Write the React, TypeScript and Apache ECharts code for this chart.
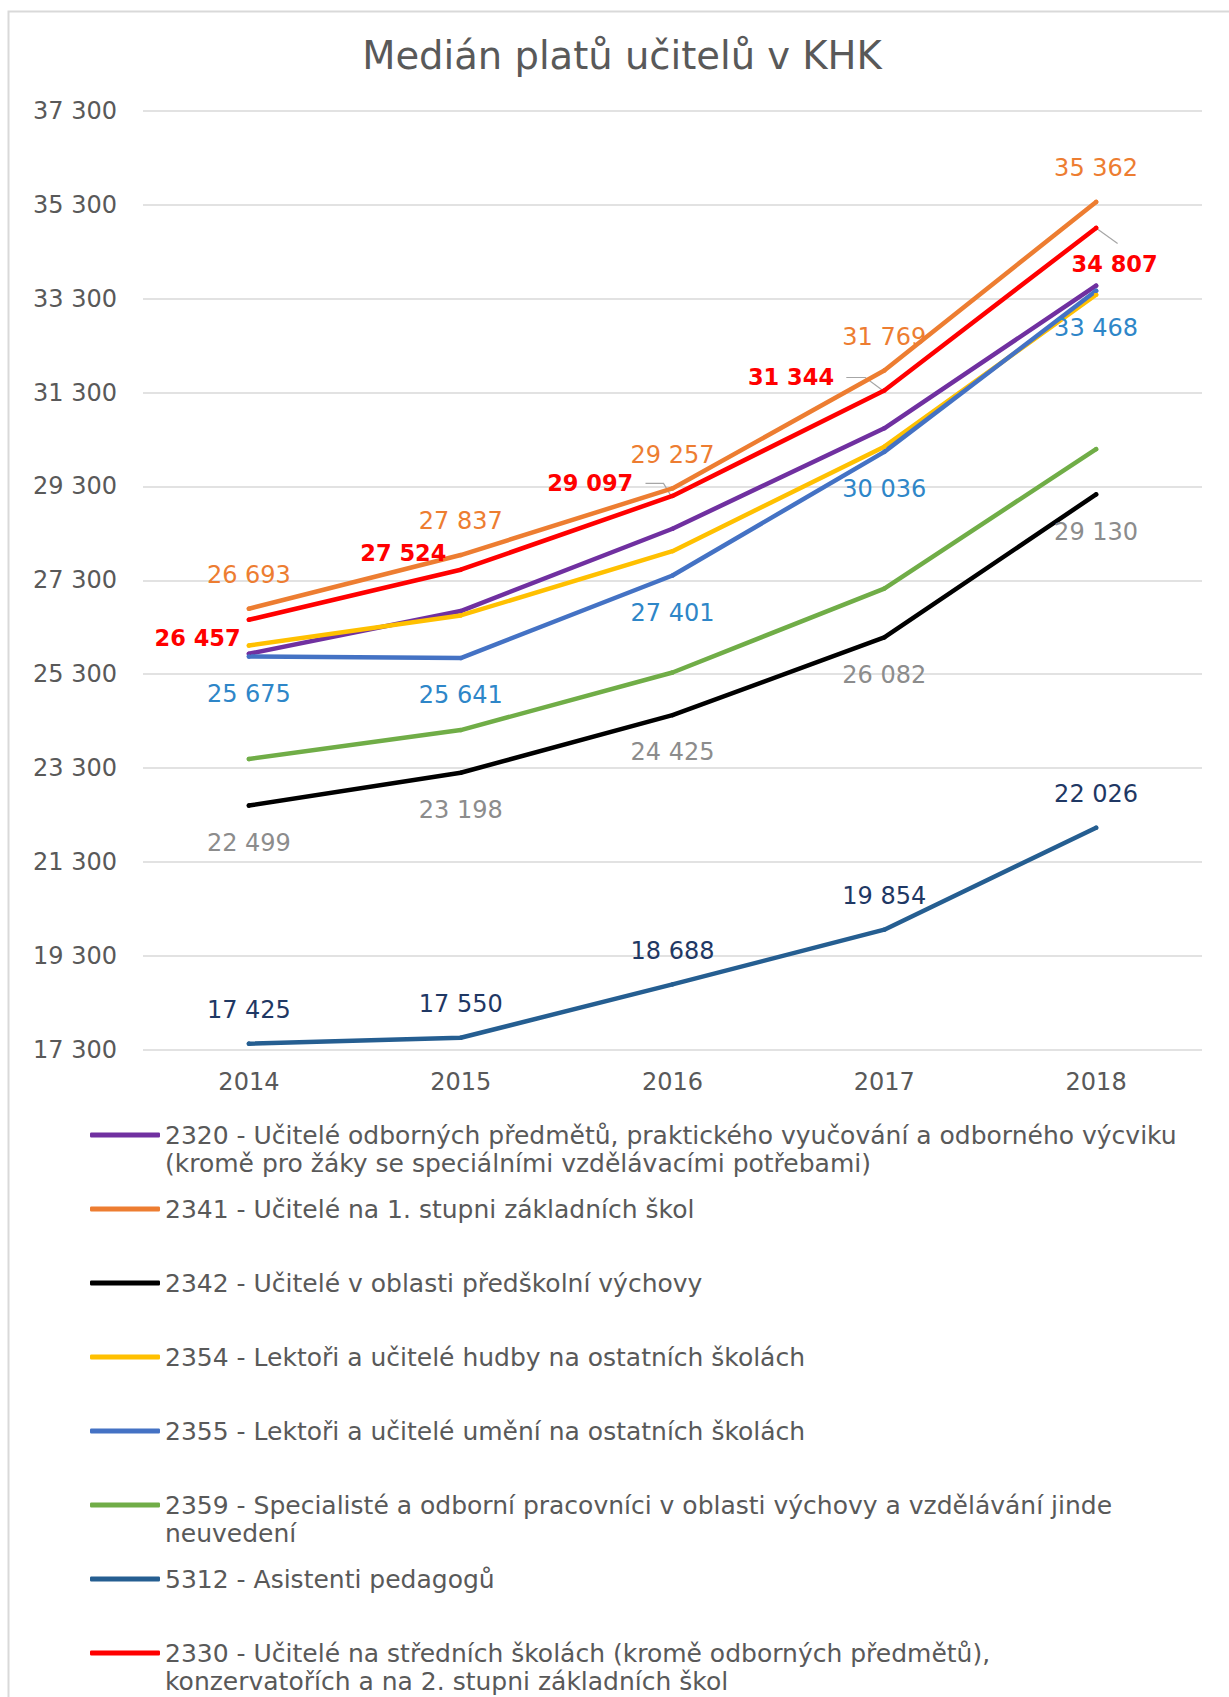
import React, { useEffect, useRef } from 'react';
import * as echarts from 'echarts';

// ---------- data ----------
const chartTitle = 'Medián platů učitelů v KHK';
const years = ['2014', '2015', '2016', '2017', '2018'];
const yMin = 17300;
const yMax = 37300;
const yStep = 2000;

const name2320 = '2320 - Učitelé odborných předmětů, praktického vyučování a odborného výcviku (kromě pro žáky se speciálními vzdělávacími potřebami)';
const name2341 = '2341 - Učitelé na 1. stupni základních škol';
const name2342 = '2342 - Učitelé v oblasti předškolní výchovy';
const name2354 = '2354 - Lektoři a učitelé hudby na ostatních školách';
const name2355 = '2355 - Lektoři a učitelé umění na ostatních školách';
const name2359 = '2359 - Specialisté a odborní pracovníci v oblasti výchovy a vzdělávání jinde neuvedení';
const name5312 = '5312 - Asistenti pedagogů';
const name2330 = '2330 - Učitelé na středních školách (kromě odborných předmětů), konzervatořích a na 2. stupni základních škol';

const values2320 = [25732, 26643, 28398, 30539, 33577];
const values2341 = [26693, 27837, 29257, 31769, 35362];
const values2342 = [22499, 23198, 24425, 26082, 29130];
const values2354 = [25908, 26550, 27920, 30146, 33385];
const values2355 = [25675, 25641, 27401, 30036, 33468];
const values2359 = [23491, 24107, 25334, 27123, 30094];
const values5312 = [17425, 17550, 18688, 19854, 22026];
const values2330 = [26457, 27524, 29097, 31344, 34807];

// legend texts (line breaks as in the picture)
const legendTexts: Record<string, string> = {
  [name2320]: '2320 - Učitelé odborných předmětů, praktického vyučování a odborného výcviku\n(kromě pro žáky se speciálními vzdělávacími potřebami)',
  [name2341]: name2341,
  [name2342]: name2342,
  [name2354]: name2354,
  [name2355]: name2355,
  [name2359]: '2359 - Specialisté a odborní pracovníci v oblasti výchovy a vzdělávání jinde\nneuvedení',
  [name5312]: name5312,
  [name2330]: '2330 - Učitelé na středních školách (kromě odborných předmětů),\nkonzervatořích a na 2. stupni základních škol',
};
const legendOrder = [name2320, name2341, name2342, name2354, name2355, name2359, name5312, name2330];

// ---------- styles ----------
const FONT = 'DejaVu Sans';
const TXT = '#595959';

// label placement for the red series (styling only)
const redLabelPlacement: any[] = [
  { position: 'left', distance: 6, offset: [0, 18.5], leader: null },
  { position: 'left', distance: 12, offset: [0, -16.5], leader: null },
  { position: 'left', distance: 37, offset: [0, -12.5], leader: { kind: 'side', gap: 10, run: 18 } },
  { position: 'left', distance: 48, offset: [0, -13], leader: { kind: 'side', gap: 10, run: 19 } },
  { position: 'bottom', distance: 22, offset: [18.5, 0], leader: { kind: 'diag', dx: 21.5, dy: 15.5 } },
];

const fmt = (v: number) => {
  const t = Math.floor(v / 1000);
  const r = Math.round(v % 1000);
  return t > 0 ? `${t} ${String(r).padStart(3, '0')}` : String(r);
};

function lineSeries(name: string, values: any[], color: string, label?: any) {
  return {
    name,
    type: 'line',
    data: values,
    symbol: 'circle',
    symbolSize: 4.5,
    showSymbol: true,
    lineStyle: { color, width: 4.5, cap: 'round', join: 'round' },
    itemStyle: { color, borderWidth: 0 },
    emphasis: { disabled: true },
    label: label
      ? {
          show: true,
          fontFamily: FONT,
          fontSize: 24,
          formatter: (p: any) => fmt(p.value),
          ...label,
        }
      : { show: false },
  };
}

const frameGraphic = {
  id: 'frame',
  type: 'rect',
  silent: true,
  z: -10,
  shape: { x: 8.5, y: 11.5, width: 1600, height: 2000 },
  style: { fill: 'none', stroke: '#D9D9D9', lineWidth: 2 },
};

export default function App() {
  const ref = useRef<HTMLDivElement>(null);

  useEffect(() => {
    if (!ref.current) return;
    const chart = echarts.init(ref.current, undefined, { renderer: 'svg' });

    const redData = values2330.map((v, i) => {
      const pl = redLabelPlacement[i];
      return {
        value: v,
        label: { position: pl.position, distance: pl.distance, offset: pl.offset },
      };
    });

    const series = [
      lineSeries(name2320, values2320, '#7030A0'),
      lineSeries(name2341, values2341, '#ED7D31', { position: 'top', distance: 19.5, color: '#ED7D31' }),
      lineSeries(name2342, values2342, '#000000', { position: 'bottom', distance: 23, color: '#8C8C8C' }),
      lineSeries(name2354, values2354, '#FFC000'),
      lineSeries(name2355, values2355, '#4472C4', { position: 'bottom', distance: 23, color: '#2E86C8' }),
      lineSeries(name2359, values2359, '#70AD47'),
      lineSeries(name5312, values5312, '#255E91', { position: 'top', distance: 19.5, color: '#1F3864' }),
      lineSeries(name2330, redData, '#FF0000', { color: '#FF0000', fontWeight: 'bold', fontSize: 22.5 }),
    ];

    const legends = legendOrder.map((n, i) => ({
      data: [n],
      orient: 'vertical',
      left: 90,
      top: 1121 + i * 74,
      padding: 0,
      itemWidth: 70,
      itemHeight: 5,
      icon: 'roundRect',
      selectedMode: false,
      itemStyle: { borderWidth: 0 },
      formatter: (name: string) => legendTexts[name],
      textStyle: {
        fontFamily: FONT,
        fontSize: 25,
        color: TXT,
        lineHeight: 28,
        height: 28,
        rich: { t: { fontFamily: FONT, fontSize: 25, color: TXT } },
      },
    }));

    chart.setOption({
      animation: false,
      backgroundColor: '#FFFFFF',
      textStyle: { fontFamily: FONT },
      title: {
        text: chartTitle,
        left: 622,
        top: 36,
        textAlign: 'center',
        padding: 0,
        textStyle: { fontFamily: FONT, fontSize: 38.5, fontWeight: 'normal', color: TXT },
      },
      graphic: [frameGraphic],
      grid: { left: 143, right: 27, top: 111, bottom: 647.5, containLabel: false },
      xAxis: {
        type: 'category',
        data: years,
        boundaryGap: true,
        axisLine: { show: false },
        axisTick: { show: false },
        axisLabel: { fontFamily: FONT, fontSize: 24, color: TXT, margin: 20 },
      },
      yAxis: {
        type: 'value',
        min: yMin,
        max: yMax,
        interval: yStep,
        axisLine: { show: false },
        axisTick: { show: false },
        splitLine: { lineStyle: { color: '#D9D9D9', width: 1.5 } },
        axisLabel: {
          fontFamily: FONT,
          fontSize: 24,
          color: TXT,
          margin: 26,
          formatter: (v: number) => fmt(v),
        },
      },
      legend: legends,
      series,
    });

    // leader lines for the moved red labels, positioned through the chart's own scales
    const leaders: any[] = [];
    values2330.forEach((v, i) => {
      const pl = redLabelPlacement[i];
      if (!pl.leader) return;
      const pt = chart.convertToPixel({ seriesIndex: 7 }, [i, v]) as number[];
      if (!pt) return;
      const [px, py] = pt;
      let points: number[][];
      if (pl.leader.kind === 'side') {
        const sx = px - pl.distance + pl.leader.gap;
        const sy = py + pl.offset[1];
        points = [[sx, sy], [sx + pl.leader.run, sy], [px - 1.5, py]];
      } else {
        points = [[px + 2, py + 1.5], [px + pl.leader.dx, py + pl.leader.dy]];
      }
      leaders.push({
        id: 'leader' + i,
        type: 'polyline',
        silent: true,
        z: 1,
        shape: { points },
        style: { stroke: '#A6A6A6', lineWidth: 1.2, fill: 'none' },
      });
    });
    chart.setOption({ graphic: [frameGraphic, ...leaders] });

    return () => chart.dispose();
  }, []);

  return (
    <div
      ref={ref}
      style={{ position: 'absolute', left: 0, top: 0, width: 1229, height: 1697, background: '#fff' }}
    />
  );
}
